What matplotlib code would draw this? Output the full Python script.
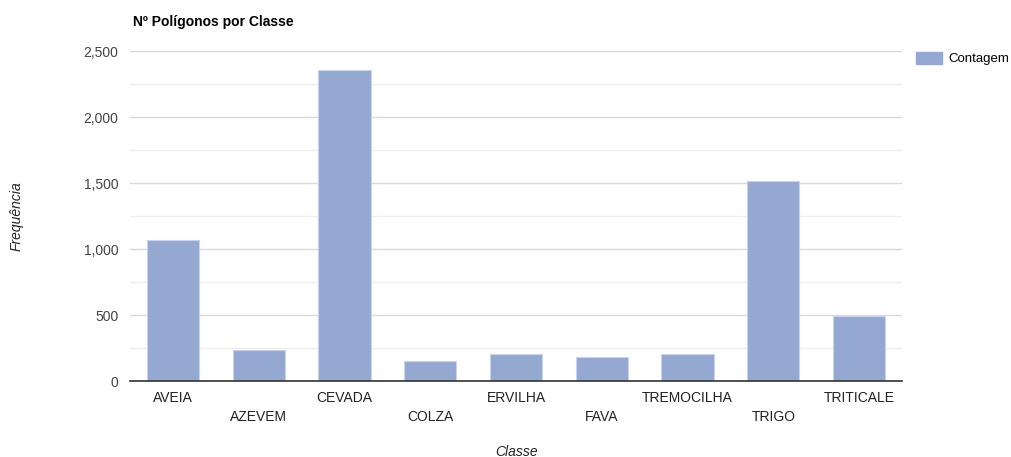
import matplotlib.pyplot as plt
from matplotlib.patches import Patch
from matplotlib.ticker import MultipleLocator, FuncFormatter

plt.rcParams["font.family"] = ["Liberation Sans", "DejaVu Sans"]

classes = ["AVEIA", "AZEVEM", "CEVADA", "COLZA", "ERVILHA",
           "FAVA", "TREMOCILHA", "TRIGO", "TRITICALE"]
counts = [1068, 235, 2360, 151, 207, 186, 207, 1520, 497]

bar_color = "#95a8d1"

fig = plt.figure(figsize=(10.12, 4.57), dpi=100)
ax = fig.add_axes([130 / 1012, 1 - 381.3 / 457, 772 / 1012, 330 / 457])

x = range(len(classes))
ax.bar(x, counts, width=0.61, color=bar_color, edgecolor="#c9d4ec", linewidth=0.8, zorder=3)

ax.set_xlim(-0.5, len(classes) - 0.5)
ax.set_ylim(0, 2500)
ax.yaxis.set_major_locator(MultipleLocator(500))
ax.yaxis.set_minor_locator(MultipleLocator(250))
ax.yaxis.set_major_formatter(FuncFormatter(lambda v, p: f"{int(v):,}"))
ax.grid(axis="y", which="major", color="#d9d9d9", linewidth=1, zorder=0)
ax.grid(axis="y", which="minor", color="#efefef", linewidth=1, zorder=0)

for side in ["top", "right", "left"]:
    ax.spines[side].set_visible(False)
ax.spines["bottom"].set_color("#333333")
ax.spines["bottom"].set_linewidth(1.2)
ax.spines["bottom"].set_zorder(4)

ax.tick_params(axis="y", which="both", length=0, pad=8.5, labelsize=10, labelcolor="#444444")
ax.tick_params(axis="x", length=0, labelsize=10, labelcolor="#222222")
ax.set_xticks(list(x))
ax.set_xticklabels(classes)
# stagger the category labels on two rows
for i, lbl in enumerate(ax.get_xticklabels()):
    lbl.set_y(-0.015 if i % 2 == 0 else -0.072)

fig.text(133 / 1012, 1 - 22 / 457, "Nº Polígonos por Classe", fontsize=10,
         fontweight="bold", va="center", ha="left", color="#000000")
fig.text(17 / 1012, 1 - 216 / 457, "Frequência", fontsize=10, style="italic",
         rotation=90, va="center", ha="center", color="#222222")
fig.text(517 / 1012, 1 - 452 / 457, "Classe", fontsize=10, style="italic",
         va="center", ha="center", color="#222222")

ax.legend(handles=[Patch(color=bar_color, label="Contagem")], loc="upper left",
          bbox_to_anchor=(913 / 1012, 1 - 49 / 457), bbox_transform=fig.transFigure,
          frameon=False, fontsize=9.5, handlelength=2.0, handleheight=1.1,
          handletextpad=0.45, borderaxespad=0, borderpad=0.2)

fig.savefig("out.png", dpi=100)
